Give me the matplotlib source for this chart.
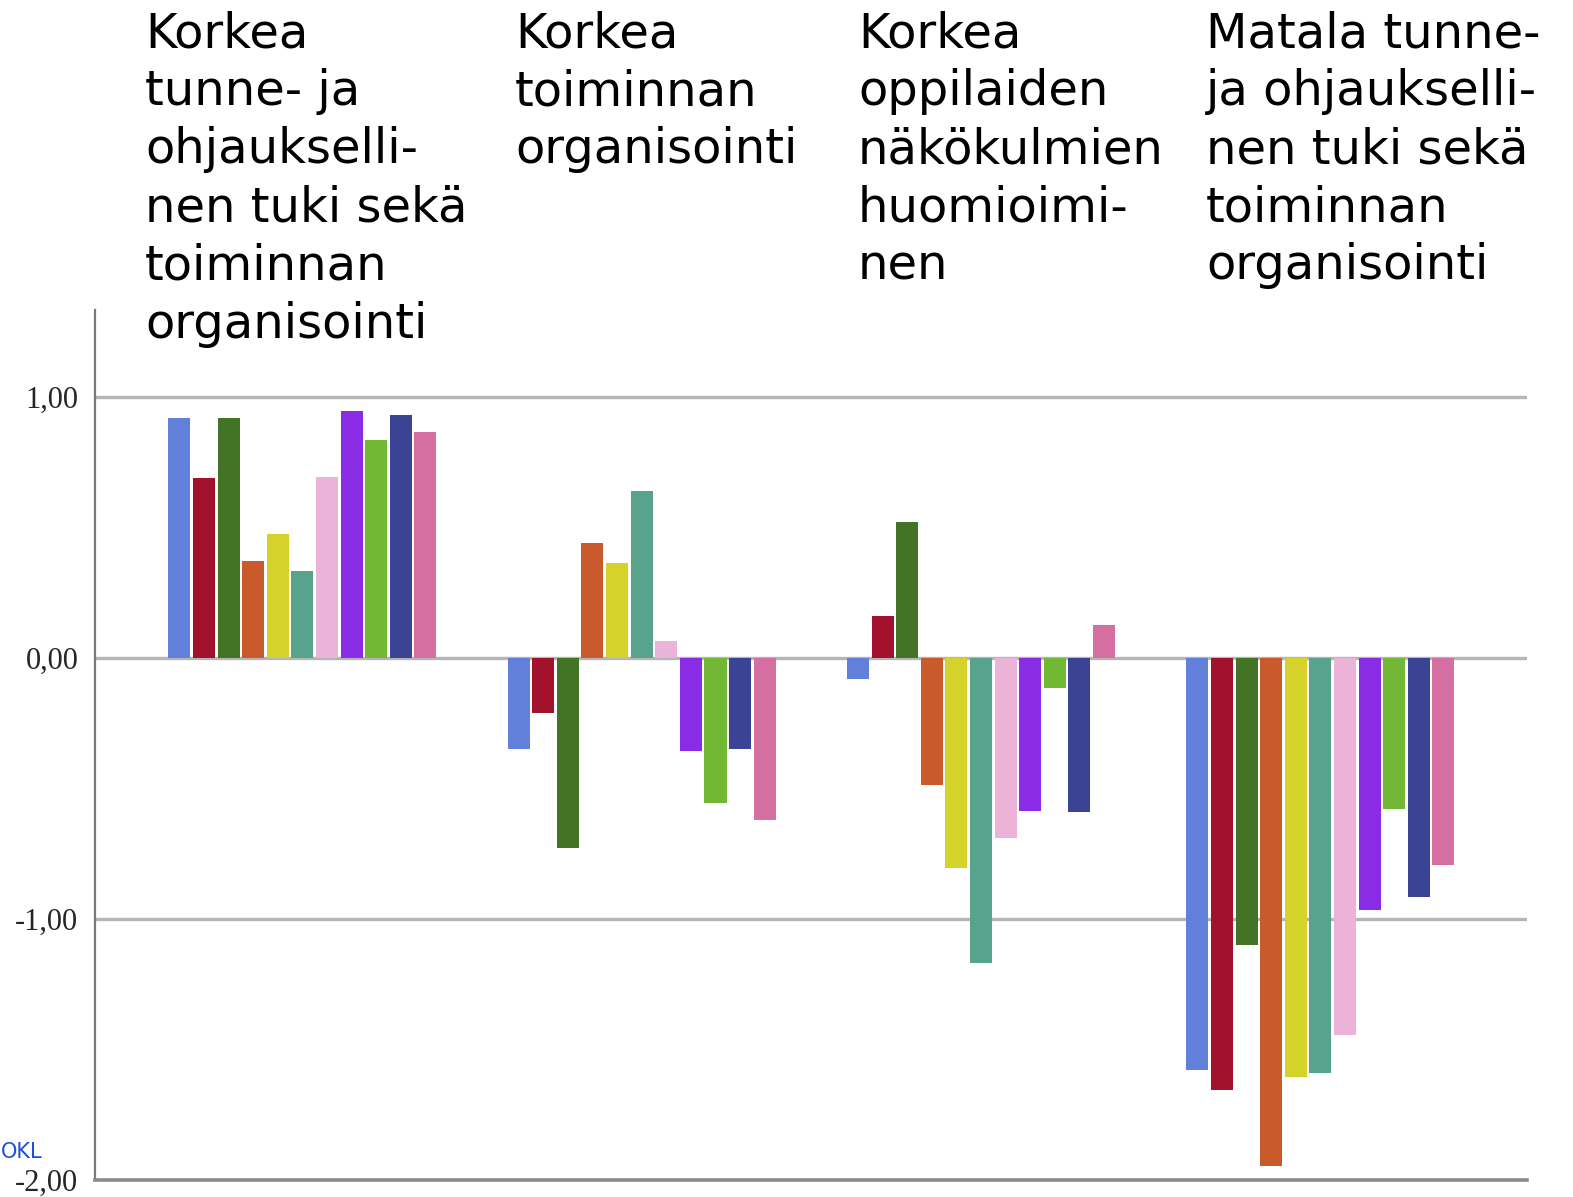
import numpy as np
import matplotlib
matplotlib.use("Agg")
import matplotlib.pyplot as plt

# chart data
group_titles = [
    "Korkea\ntunne- ja\nohjaukselli-\nnen tuki sekä\ntoiminnan\norganisointi",
    "Korkea\ntoiminnan\norganisointi",
    "Korkea\noppilaiden\nnäkökulmien\nhuomioimi-\nnen",
    "Matala tunne-\nja ohjaukselli-\nnen tuki sekä\ntoiminnan\norganisointi",
]
tick_values = [-2, -1, 0, 1]
tick_labels = ["-2,00", "-1,00", "0,00", "1,00"]

bar_colors = ["#6180d9", "#a3122d", "#437425", "#c85a2b", "#d5d22a", "#58a38c",
              "#eab3d7", "#8a2be6", "#72b834", "#3b4394", "#d56fa2"]

group1 = [0.92, 0.69, 0.92, 0.37, 0.475, 0.335, 0.695, 0.945, 0.835, 0.93, 0.865]
group2 = [-0.35, -0.21, -0.73, 0.44, 0.365, 0.64, 0.065, -0.355, -0.555, -0.35, -0.62]
group3 = [-0.08, 0.16, 0.52, -0.485, -0.805, -1.17, -0.69, -0.585, -0.115, -0.59, 0.125]
group4 = [-1.58, -1.655, -1.10, -1.945, -1.605, -1.59, -1.445, -0.965, -0.58, -0.915, -0.795]
groups = [group1, group2, group3, group4]

W, H = 1573, 1197
fig = plt.figure(figsize=(W / 100, H / 100), dpi=100)
ax = fig.add_axes([95 / W, 17 / H, 1432 / W, 870 / H])

pitch = 0.0725
width = 0.065
for g, vals in enumerate(groups):
    xs = g + (np.arange(len(vals)) - 5) * pitch
    ax.bar(xs, vals, width=width, color=bar_colors, zorder=3)

ax.set_xlim(-0.611, 3.609)
ax.set_ylim(-2, 1.333)

# gridlines
for v in tick_values:
    ax.axhline(v, color="#b5b5b5", lw=2.4, zorder=1)
ax.axhline(-2, color="#8a8a8a", lw=2.6, zorder=4, clip_on=False)

for side in ["top", "right", "bottom"]:
    ax.spines[side].set_visible(False)
ax.spines["left"].set_color("#7a7a7a")
ax.spines["left"].set_linewidth(1.6)

ax.set_xticks([])
ax.set_yticks(tick_values)
ax.set_yticklabels(tick_labels, family="Liberation Serif", fontsize=22, color="#262626")
ax.tick_params(axis="y", length=0, pad=12)

# group titles above the bars
title_x = [145, 515, 858, 1206]
for tx, t in zip(title_x, group_titles):
    fig.text(tx / W, 1 - 10 / H, t, ha="left", va="top", fontsize=34.6,
             family="DejaVu Sans", linespacing=1.3, color="black")

fig.text(1 / W, 1 - 1158 / H, "OKL", ha="left", va="baseline", fontsize=15,
         family="DejaVu Sans", color="#1f4fd8")

fig.savefig("out.png", dpi=100)
